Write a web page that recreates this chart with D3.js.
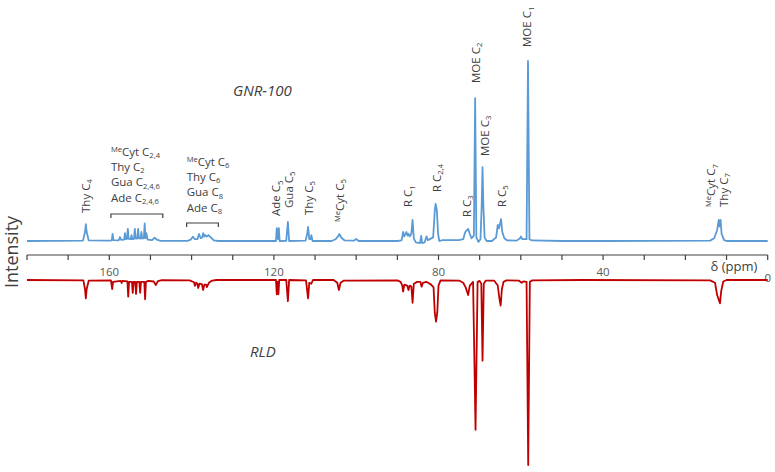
<!DOCTYPE html>
<html>
<head>
<meta charset="utf-8">
<script src="https://cdn.jsdelivr.net/npm/d3@7"></script>
<style>
  body { margin: 0; background: #fff; }
  text { font-family: "Open Sans", sans-serif; fill: #404040; }
</style>
</head>
<body>
<div id="chart"></div>
<script>
// chemical shift (ppm) / intensity pairs, upper trace
let gnrSpectrum = [
    [180, 0], [166.4, 0.2], [165.9, 5], [165.7, 9.3], [165.5, 5], [165.0, 0.3],
    [160.0, 0.2], [159.4, 0.4], [159.2, 3.9], [159.0, 0.5], [157.7, 0.4], [157.4, 2.2], [157.1, 0.6],
    [156.4, 0.8], [156.2, 4.4], [156.0, 1.0], [155.7, 1.2], [155.5, 6.7], [155.3, 1.2], [154.8, 1.0],
    [154.6, 3.3], [154.4, 1.0], [154.0, 1.2], [153.8, 6.7], [153.6, 1.4], [153.2, 1.4], [153.0, 6.7],
    [152.8, 1.5], [152.4, 1.3], [152.2, 5.0], [152.0, 1.4], [151.6, 1.5], [151.4, 9.8], [151.2, 1.6],
    [151.0, 4.4], [150.7, 0.8], [149.6, 0.5], [149.0, 1.8], [148.3, 0.6], [147.5, 0.1],
    [141.0, 0.1], [140.2, 0.8], [139.7, 2.4], [139.2, 1.0], [138.6, 1.0], [138.2, 3.9], [137.8, 1.6],
    [137.4, 2.0], [137.2, 4.4], [136.9, 2.5], [136.7, 3.3], [136.3, 2.5], [135.9, 3.3], [135.6, 2.4],
    [135.4, 2.2], [134.6, 0.3], [133.5, 0],
    [119.5, 0], [119.3, 7.2], [119.0, 1.0], [118.8, 7.2], [118.6, 0],
    [117.0, 0.1], [116.6, 10.6], [116.3, 0],
    [112.3, 0.2], [111.9, 4], [111.7, 7.8], [111.4, 1.0], [111.1, 1], [110.9, 3.3], [110.6, 0],
    [106.0, 0], [105.0, 1], [104.4, 2.6], [104.1, 3.9], [103.6, 1.8], [102.8, 0.3],
    [100.6, 0.2], [100.0, 1.1], [99.4, 0],
    [90.0, 0], [89.0, 0.3], [88.8, 2.5], [88.6, 5], [88.3, 2.5], [87.8, 5], [87.5, 3], [87.3, 4],
    [87.0, 2.5], [86.6, 4], [86.3, 11.7], [86.0, 1.5], [85.5, -0.8], [84.5, -1.2], [84.2, 2.9],
    [84.0, -1.2], [83.4, -0.8], [82.9, 2.6], [82.6, 0.5], [82.0, 1.2], [81.3, 2], [80.9, 17],
    [80.7, 20.6], [80.4, 17], [80.1, 4], [79.8, 0], [79.0, 0.5],
    [75.0, 0.5], [74.0, 1], [73.5, 5], [72.8, 6.7], [72.4, 4], [72.0, 1.5], [71.4, 3], [71.1, 79.4],
    [70.8, 2], [70.3, -0.5], [69.8, 1], [69.5, 20], [69.3, 41], [69.1, 20], [68.8, 2], [68.3, 0],
    [67.0, 0], [66.0, 2], [65.6, 8.9], [65.3, 7], [64.8, 12.2], [64.5, 5], [64.0, 1.5], [63.3, 0.3],
    [61.0, 0.2], [60.2, 1.5], [60.0, 2.5], [59.6, 1], [58.6, 1], [58.25, 100], [57.9, 1], [57.3, 0.3],
    [50.0, 0], [40.0, 0],
    [14.0, 0.2], [13.0, 1.5], [12.3, 6], [11.9, 11.7], [11.7, 8], [11.45, 11.7], [11.2, 4], [10.6, 0.5],
    [10.0, 0], [0, 0]
]

// lower trace (drawn downwards)
let rldSpectrum = [
    [180, 0], [166.3, 0.2], [165.9, 5], [165.7, 9.9], [165.5, 5], [165.0, 0.3],
    [159.6, 0.2], [159.3, 4.9], [159.1, 1], [157.2, 0.5], [157.0, 1.6], [156.8, 0.5], [155.6, 0.8],
    [155.4, 9], [155.2, 1], [154.5, 1], [154.3, 7], [154.1, 1], [153.7, 1], [153.5, 7.6], [153.3, 1],
    [152.7, 1], [152.5, 6.9], [152.3, 1], [151.5, 1], [151.3, 10.4], [151.1, 1], [150.5, 0.5],
    [149.2, 0.8], [148.7, 2.7], [148.2, 0.6], [147.2, 0.1],
    [140.5, 0.2], [139.4, 1.2], [139.2, 3.2], [138.9, 1.5], [138.6, 2], [138.4, 4.3], [138.1, 2],
    [137.5, 2.2], [137.2, 5.4], [136.9, 2.5], [136.5, 2.5], [136.3, 3.8], [135.8, 1.5], [135.0, 0.3],
    [134.0, 0],
    [119.5, 0], [119.3, 7.7], [119.1, 1], [118.9, 7.7], [118.7, 0],
    [117.0, 0], [116.6, 11.4], [116.3, 0],
    [112.2, 0.2], [111.7, 9.9], [111.4, 1.5], [110.9, 2], [110.5, 0],
    [105.5, 0], [104.6, 1.5], [104.2, 5.4], [103.8, 1.5], [103.0, 0.3],
    [90.0, 0.2], [89.2, 1], [88.8, 3], [88.6, 6.3], [88.3, 2.5], [87.6, 3], [87.3, 5.4], [87.0, 3],
    [86.6, 3.5], [86.3, 12.3], [86.0, 2], [85.2, 1], [84.4, 1], [84.1, 3.6], [83.8, 1.5], [83.0, 1],
    [82.5, 1.5], [81.8, 2.5], [81.2, 4], [80.9, 17.8], [80.6, 22.5], [80.3, 17.8], [80.0, 3], [79.5, 0.2],
    [75.0, 0.3], [74.0, 1.5], [73.4, 4], [72.8, 8.1], [72.4, 3], [71.6, 1], [71.0, 81], [70.5, 1],
    [70.0, 0.5], [69.6, 2], [69.3, 43.6], [69.0, 2], [68.5, 0.3], [66.5, 0.3], [65.6, 3], [65.2, 10],
    [64.9, 13.9], [64.6, 5], [64.2, 1], [63.5, 0.2], [60.5, 0.3], [59.8, 1.5], [59.4, 0.8], [58.6, 1],
    [58.2, 100], [57.8, 1], [57.2, 0.2], [45.0, 0],
    [14.0, 0.2], [12.8, 1.5], [12.3, 8], [11.6, 12.6], [11.3, 6], [10.8, 0.8], [10.0, 0], [0, 0]
]

let tickValues = [180, 170, 160, 150, 140, 130, 120, 110, 100, 90, 80, 70, 60, 50, 40, 30, 20, 10, 0]
let tickLabels = [160, 120, 80, 40]

let peakLabels = [
    {text: "Thy C_{4}", ppm: 165.7, y: 213},
    {text: "Ade C_{5}", ppm: 119.4, y: 216},
    {text: "Gua C_{5}", ppm: 116.4, y: 208},
    {text: "Thy C_{5}", ppm: 111.5, y: 215},
    {text: "^{Me}Cyt C_{5}", ppm: 103.9, y: 222},
    {text: "R C_{1}", ppm: 87.3, y: 207},
    {text: "R C_{2,4}", ppm: 80.4, y: 192},
    {text: "R C_{3}", ppm: 73.1, y: 217},
    {text: "MOE C_{2}", ppm: 70.9, y: 83},
    {text: "MOE C_{3}", ppm: 68.7, y: 156},
    {text: "R C_{5}", ppm: 64.6, y: 207},
    {text: "MOE C_{1}", ppm: 58.4, y: 47},
    {text: "^{Me}Cyt C_{7}", ppm: 13.7, y: 207},
    {text: "Thy C_{7}", ppm: 10.7, y: 207}
]

let groupLabels = [
    {lines: ["^{Me}Cyt C_{2,4}", "Thy C_{2}", "Gua C_{2,4,6}", "Ade C_{2,4,6}"], from: 159.6, to: 147.0, top: 155.5, bracket: 214},
    {lines: ["^{Me}Cyt C_{6}", "Thy C_{6}", "Gua C_{8}", "Ade C_{8}"], from: 141.2, to: 133.5, top: 165.5, bracket: 223}
]

let width = 775
let height = 472

let svg = d3.select("#chart")
    .append("svg")
    .attr("width", width)
    .attr("height", height)

let x = d3.scaleLinear().domain([180, 0]).range([27, 767.7])
let yTop = d3.scaleLinear().domain([0, 100]).range([241, 61])
let yBot = d3.scaleLinear().domain([0, 100]).range([280, 465])

// rich text: ^{..} superscript, _{..} subscript
function richText(sel, str, size) {
    let re = /(\^\{[^}]*\}|_\{[^}]*\})/g
    let parts = str.split(re).filter(s => s.length)
    let shift = 0
    parts.forEach(p => {
        let t = 0, fs = size, txt = p
        if (p[0] === "^") { t = -size * 0.34; fs = size * 0.66; txt = p.slice(2, -1) }
        else if (p[0] === "_") { t = size * 0.2; fs = size * 0.66; txt = p.slice(2, -1) }
        sel.append("tspan")
            .attr("dy", t - shift)
            .style("font-size", fs + "px")
            .text(txt)
        shift = t
    })
}

// axis
let axis = svg.append("g").attr("transform", "translate(0,255)")
axis.append("line")
    .attr("x1", x(180)).attr("x2", x(0))
    .attr("stroke", "#404040").attr("stroke-width", 1.2)
axis.selectAll(".tick")
    .data(tickValues)
    .enter()
    .append("line")
    .attr("x1", d => x(d)).attr("x2", d => x(d))
    .attr("y1", 0).attr("y2", 5)
    .attr("stroke", "#404040").attr("stroke-width", 1.2)
axis.selectAll(".lbl")
    .data(tickLabels)
    .enter()
    .append("text")
    .attr("x", d => x(d))
    .attr("y", 21)
    .attr("text-anchor", "middle")
    .style("font-size", "11.5px")
    .style("fill", "#595959")
    .text(d => d)
axis.append("text")
    .attr("x", x(0))
    .attr("y", 27)
    .attr("text-anchor", "middle")
    .style("font-size", "11.5px")
    .style("fill", "#595959")
    .text("0")
axis.append("text")
    .attr("x", 734)
    .attr("y", 16)
    .attr("text-anchor", "middle")
    .style("font-size", "13px")
    .text("δ (ppm)")

// spectra
let lineTop = d3.line().x(d => x(d[0])).y(d => yTop(d[1]))
let lineBot = d3.line().x(d => x(d[0])).y(d => yBot(d[1]))

svg.append("path")
    .datum(gnrSpectrum)
    .attr("d", lineTop)
    .attr("fill", "none")
    .attr("stroke", "#5b9bd5")
    .attr("stroke-width", 1.8)
    .attr("stroke-linejoin", "round")

svg.append("path")
    .datum(rldSpectrum)
    .attr("d", lineBot)
    .attr("fill", "none")
    .attr("stroke", "#c00000")
    .attr("stroke-width", 1.8)
    .attr("stroke-linejoin", "round")

// vertical peak labels
peakLabels.forEach(d => {
    let t = svg.append("text")
        .attr("transform", "translate(" + (x(d.ppm) + 4) + "," + d.y + ") rotate(-90)")
        .style("font-size", "11.5px")
    richText(t, d.text, 11.5)
})

// grouped labels with brackets
groupLabels.forEach(g => {
    g.lines.forEach((l, i) => {
        let t = svg.append("text")
            .attr("x", x(g.from))
            .attr("y", g.top + i * 15.4)
            .style("font-size", "11px")
        richText(t, l, 11.5)
    })
    svg.append("path")
        .attr("d", "M" + x(g.from) + "," + (g.bracket + 4) + "V" + g.bracket + "H" + x(g.to) + "V" + (g.bracket + 4))
        .attr("fill", "none")
        .attr("stroke", "#404040")
        .attr("stroke-width", 1.2)
})

// titles
svg.append("text")
    .attr("x", 233).attr("y", 96)
    .style("font-size", "15px").style("font-style", "italic")
    .text("GNR-100")
svg.append("text")
    .attr("x", 250).attr("y", 357)
    .style("font-size", "15px").style("font-style", "italic")
    .text("RLD")
svg.append("text")
    .attr("transform", "translate(18,252) rotate(-90)")
    .attr("text-anchor", "middle")
    .style("font-size", "18px")
    .text("Intensity")
</script>
</body>
</html>
